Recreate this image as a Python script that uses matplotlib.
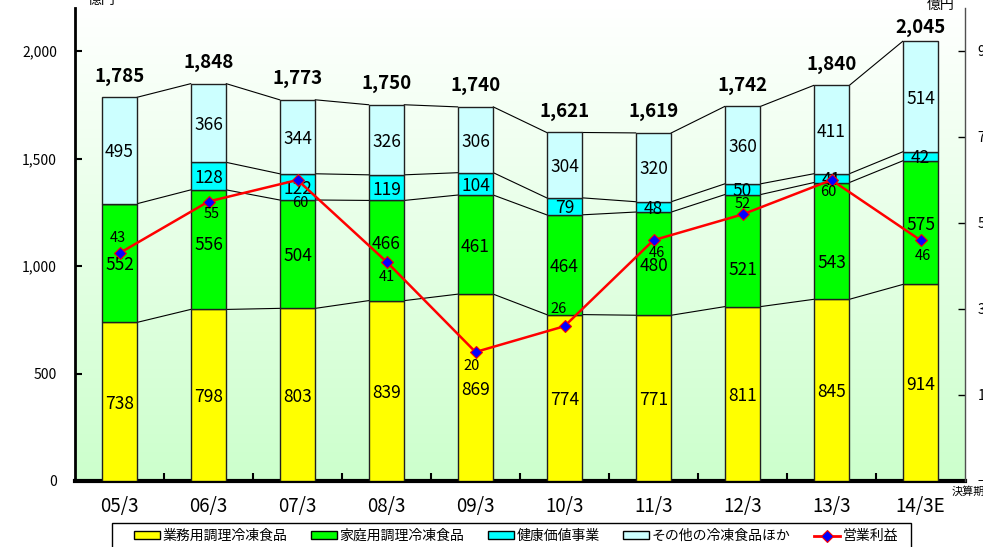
import numpy as np
import matplotlib
matplotlib.use('Agg')
import matplotlib.pyplot as plt
from matplotlib.patches import Patch, Rectangle
from matplotlib.lines import Line2D
from matplotlib.colors import LinearSegmentedColormap
from matplotlib.ticker import FuncFormatter

plt.rcParams['font.family'] = ['Noto Sans CJK JP', 'DejaVu Sans']

# ── データ（億円） ────────────────────────────
periods = ['05/3', '06/3', '07/3', '08/3', '09/3', '10/3', '11/3', '12/3', '13/3', '14/3E']
gyomu   = [738, 798, 803, 839, 869, 774, 771, 811, 845, 914]    # 業務用調理冷凍食品
katei   = [552, 556, 504, 466, 461, 464, 480, 521, 543, 575]    # 家庭用調理冷凍食品
kenko   = [0, 128, 122, 119, 104, 79, 48, 50, 41, 42]           # 健康価値事業
sonota  = [495, 366, 344, 326, 306, 304, 320, 360, 411, 514]    # その他の冷凍食品ほか
rieki   = [43, 55, 60, 41, 20, 26, 46, 52, 60, 46]              # 営業利益

seg_names  = ['業務用調理冷凍食品', '家庭用調理冷凍食品', '健康価値事業', 'その他の冷凍食品ほか']
seg_colors = ['#ffff00', '#00ff00', '#00ffff', '#ccffff']

# ラベル位置の微調整（ピクセル）
katei_nudge   = [0, 7, 0, 9, 0, 0, 0, -17, -20, 0]
rieki_offset  = [(-2, 15), (3, -13), (3, -23), (0, -15), (-4, -14),
                 (-6, 17), (3, -13), (0, 10), (-3, -12), (2, -16)]
total_offset  = [21, 21, 21, 21, 21, 21, 21, 21, 21, 14]

W, H = 983, 547
fig = plt.figure(figsize=(W / 100, H / 100), dpi=100)
ax = fig.add_axes([75 / W, 1 - 481 / H, 890 / W, 473 / H])

x = np.arange(len(periods))
BW = 0.4

# 背景グラデーション（上:白 → 下:薄緑）
cmap = LinearSegmentedColormap.from_list('bg', ['#ffffff', '#ccffcc'])
grad = np.linspace(0, 1, 256).reshape(-1, 1)
ax.imshow(grad, extent=[-0.5, 9.5, 0, 2200], origin='upper', aspect='auto',
          cmap=cmap, zorder=0)

# ── 積み上げ棒 ───────────────────────────────
layers = [gyomu, katei, kenko, sonota]
bottom = np.zeros(len(x))
tops = []
for k, (vals, color) in enumerate(zip(layers, seg_colors)):
    vals = np.array(vals, dtype=float)
    ax.bar(x, vals, BW, bottom=bottom, color=color, edgecolor='#202020',
           linewidth=1.0, zorder=3)
    for i, v in enumerate(vals):
        if v == 0:
            continue
        dy = (katei_nudge[i] if k == 1 else 0) - 2
        ax.annotate(f'{int(v)}', (x[i], bottom[i] + v / 2), xytext=(0, dy),
                    textcoords='offset pixels', ha='center', va='center',
                    fontsize=12.5, zorder=4)
    bottom = bottom + vals
    tops.append(bottom.copy())

# 棒の間をつなぐ線
for k, top in enumerate(tops):
    for i in range(len(x) - 1):
        if k == 2 and kenko[i] == 0:
            continue
        ax.plot([x[i] + BW / 2, x[i + 1] - BW / 2], [top[i], top[i + 1]],
                color='black', lw=0.8, zorder=2)

# 合計
for i, t in enumerate(tops[-1]):
    ax.annotate(f'{int(t):,}', (x[i], t), xytext=(0, total_offset[i]),
                textcoords='offset pixels', ha='center', va='center',
                fontsize=13.5, fontweight='bold', zorder=4)

ax.set_xlim(-0.5, 9.5)
ax.set_ylim(0, 2200)
ax.set_yticks([0, 500, 1000, 1500, 2000])
ax.yaxis.set_major_formatter(FuncFormatter(lambda v, p: f'{int(v):,}'))
ax.tick_params(axis='y', direction='in', length=5, width=1.5, labelsize=10, pad=13)

ax.set_xticks(np.arange(0.5, 9, 1))
ax.set_xticklabels([])
ax.set_xticks(x, minor=True)
ax.set_xticklabels(periods, minor=True)
ax.tick_params(axis='x', which='major', direction='in', length=6, width=1.5)
ax.tick_params(axis='x', which='minor', length=0, labelsize=13.5, pad=11)

ax.spines['top'].set_visible(False)
ax.spines['right'].set_visible(False)
ax.spines['left'].set_linewidth(2)
ax.spines['bottom'].set_linewidth(3)

# ── 営業利益（右軸） ─────────────────────────
ax2 = ax.twinx()
ax2.plot(x, rieki, color='#ff0000', lw=1.8, marker='D', ms=6,
         mfc='#0000ff', mec='#ff0000', mew=0.8, zorder=5)
for i, v in enumerate(rieki):
    ax2.annotate(f'{v}', (x[i], v), xytext=rieki_offset[i],
                 textcoords='offset pixels', ha='center', va='center',
                 fontsize=10.5, zorder=6)
ax2.set_ylim(-10, 100)
ax2.set_yticks([-10, 10, 30, 50, 70, 90])
ax2.tick_params(axis='y', direction='in', length=5, width=1, labelsize=10, pad=9)
for s in ['top', 'left', 'bottom']:
    ax2.spines[s].set_visible(False)
ax2.spines['right'].set_linewidth(1)
ax2.spines['right'].set_color('#505050')

# ── 単位・軸名 ───────────────────────────────
fig.text(102 / W, 1 - 0 / H, '億円', ha='center', va='center', fontsize=10)
fig.text(941 / W, 1 - 5 / H, '億円', ha='center', va='center', fontsize=10)
fig.text(968 / W, 1 - 492 / H, '決算期', ha='center', va='center', fontsize=8)

# ── 凡例 ─────────────────────────────────────
handles = [Patch(facecolor=c, edgecolor='black', linewidth=1.0, label=n)
           for c, n in zip(seg_colors, seg_names)]
handles.append(Line2D([], [], color='#ff0000', lw=2, marker='D', ms=6,
                      mfc='#0000ff', mec='#ff0000', mew=0.8, label='営業利益'))
fig.legend(handles=handles, loc='upper left', bbox_to_anchor=(134 / W, 1 - 529 / H),
           ncol=5, frameon=False, fontsize=10, handlelength=1.85, handleheight=0.5,
           handletextpad=0.2, columnspacing=1.7, borderpad=0, borderaxespad=0)
fig.add_artist(Rectangle((112 / W, -0.05), (911 - 112) / W, 0.05 + 24 / H,
                         transform=fig.transFigure, fill=False,
                         edgecolor='black', lw=1))

fig.savefig('out.png', dpi=100)
